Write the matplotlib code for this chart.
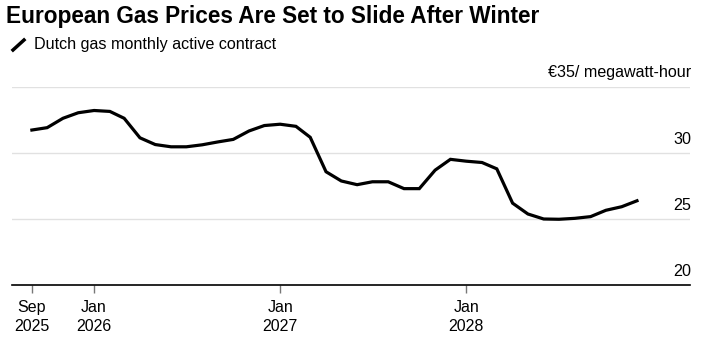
import matplotlib
matplotlib.use("Agg")
import matplotlib.pyplot as plt
import matplotlib.dates as mdates
import matplotlib.transforms as mtransforms
from matplotlib.lines import Line2D
import datetime as dt

plt.rcParams['font.family'] = ['Liberation Sans', 'DejaVu Sans']

# Data: Dutch gas monthly active contract, EUR/MWh, Sep 2025 - Dec 2028
start_year, start_month = 2025, 9
prices = [31.74, 31.92, 32.63, 33.05, 33.22, 33.15, 32.63, 31.15, 30.64, 30.47,
          30.47, 30.62, 30.84, 31.03, 31.67, 32.08, 32.18, 32.02, 31.19, 28.58,
          27.88, 27.6, 27.82, 27.82, 27.3, 27.3, 28.7, 29.52, 29.38, 29.28,
          28.8, 26.2, 25.38, 25.0, 24.98, 25.05, 25.18, 25.66, 25.93, 26.38]
dates = []
for i in range(len(prices)):
    m = start_month - 1 + i
    dates.append(dt.date(start_year + m // 12, m % 12 + 1, 1))

yticks = [20, 25, 30, 35]
ytick_labels = ["20", "25", "30", "€35/ megawatt-hour"]
xtick_dates = [dt.date(2025, 9, 1), dt.date(2026, 1, 1), dt.date(2027, 1, 1), dt.date(2028, 1, 1)]
xtick_labels = ["Sep\n2025", "Jan\n2026", "Jan\n2027", "Jan\n2028"]
title = "European Gas Prices Are Set to Slide After Winter"
legend_label = "Dutch gas monthly active contract"

fig = plt.figure(figsize=(7.02, 3.42), dpi=100)
ax = fig.add_axes([12/702, 1-285/342, (690-12)/702, (285-87)/342])

ax.plot(dates, prices, color="black", lw=2.3, solid_joinstyle="miter", zorder=3)

ax.set_ylim(20, 35)
ax.set_xlim(dt.date(2025, 7, 24), dt.date(2029, 3, 15))

for yv in yticks[1:]:
    ax.axhline(yv, color="#e1e1e1", lw=1.0, zorder=1)

for s in ["top", "right", "left"]:
    ax.spines[s].set_visible(False)
ax.spines["bottom"].set_color("black")
ax.spines["bottom"].set_linewidth(1.2)

ax.set_yticks([])
ax.set_xticks([mdates.date2num(d) for d in xtick_dates])
ax.set_xticklabels(xtick_labels, fontsize=11.5, linespacing=1.3)
ax.tick_params(axis="x", direction="out", length=6, width=1, color="#777777", pad=5)

trans = mtransforms.blended_transform_factory(ax.transAxes, ax.transData)
for yv, lab in zip(yticks, ytick_labels):
    t = mtransforms.offset_copy(trans, fig=fig, x=1, y=9.5, units="dots")
    ax.text(1.0, yv, lab, transform=t, ha="right", va="baseline", fontsize=11.6,
            color="black")

fig.text(6/702, 1-17/342, title, fontsize=16.3, fontweight="bold", ha="left", va="center")
fig.add_artist(Line2D([13/702, 24/702], [1-50/342, 1-40/342], color="black", lw=2.5,
                      transform=fig.transFigure))
fig.text(34/702, 1-45/342, legend_label, fontsize=11.6, ha="left", va="center")

fig.savefig("out.png", dpi=100)
